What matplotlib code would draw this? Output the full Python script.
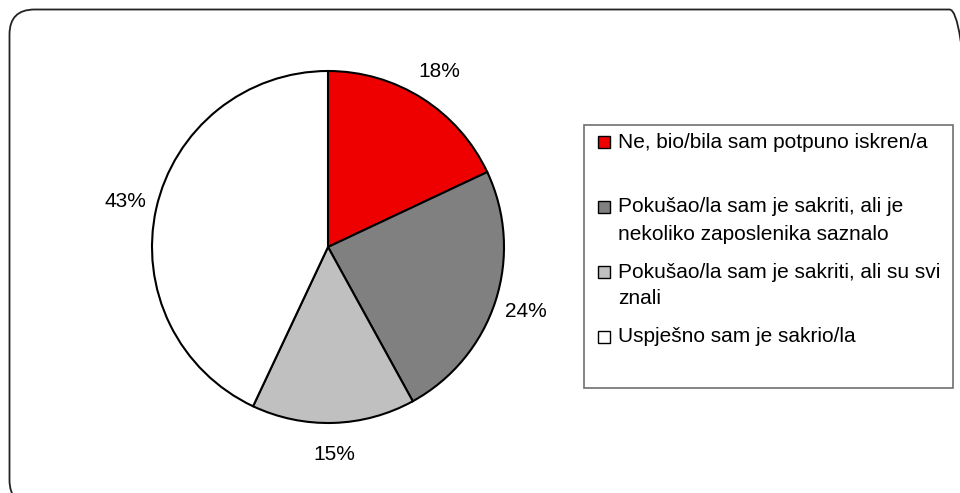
import matplotlib.pyplot as plt
from matplotlib.patches import FancyBboxPatch, Rectangle
from matplotlib.transforms import IdentityTransform

plt.rcParams['font.family'] = ['Liberation Sans', 'DejaVu Sans']

# ---------------- data ----------------
labels = ['Ne, bio/bila sam potpuno iskren/a',
          'Pokušao/la sam je sakriti, ali je\nnekoliko zaposlenika saznalo',
          'Pokušao/la sam je sakriti, ali su svi\nznali',
          'Uspješno sam je sakrio/la']
values = [18, 24, 15, 43]
colors = ['#ee0000', '#808080', '#c0c0c0', '#ffffff']

W, H = 960, 493
FS = 15

fig = plt.figure(figsize=(W / 100, H / 100), dpi=100)
fig.patch.set_facecolor('white')

# outer rounded frame (pixel coordinates, origin bottom-left)
frame = FancyBboxPatch((9.5, -12), 965, 493 - 9.5 + 12,
                       boxstyle='round,pad=0,rounding_size=25',
                       transform=IdentityTransform(), fill=False,
                       edgecolor='#222222', linewidth=1.3)
fig.add_artist(frame)

# pie
cx, cy, r = 328, H - 247, 176
ax = fig.add_axes([(cx - r) / W, (cy - r) / H, 2 * r / W, 2 * r / H])
wedges, texts, autotexts = ax.pie(values, colors=colors, startangle=90,
                                  counterclock=False, autopct='%.0f%%',
                                  pctdistance=1.18,
                                  wedgeprops=dict(edgecolor='black', linewidth=1.5),
                                  textprops=dict(fontsize=FS, color='black'))
ax.set_xlim(-1, 1)
ax.set_ylim(-1, 1)
ax.set_aspect('equal')
ax.axis('off')

# legend box
lx0, lx1, ly_top, ly_bot = 584, 953, 125, 388
fig.add_artist(Rectangle((lx0, H - ly_bot), lx1 - lx0, ly_bot - ly_top,
                         transform=IdentityTransform(), fill=False,
                         edgecolor='#707070', linewidth=1.2))

first_y = 142
slot = 65
line_h = 27
for i, (lab, col) in enumerate(zip(labels, colors)):
    y0 = first_y + i * slot
    fig.add_artist(Rectangle((598, H - y0 - 6), 12, 12,
                             transform=IdentityTransform(), facecolor=col,
                             edgecolor='black', linewidth=1.0))
    for j, line in enumerate(lab.split('\n')):
        fig.text(618 / W, (H - (y0 + j * line_h)) / H, line,
                 fontsize=FS, ha='left', va='center', color='black')

fig.savefig('out.png', dpi=100)
